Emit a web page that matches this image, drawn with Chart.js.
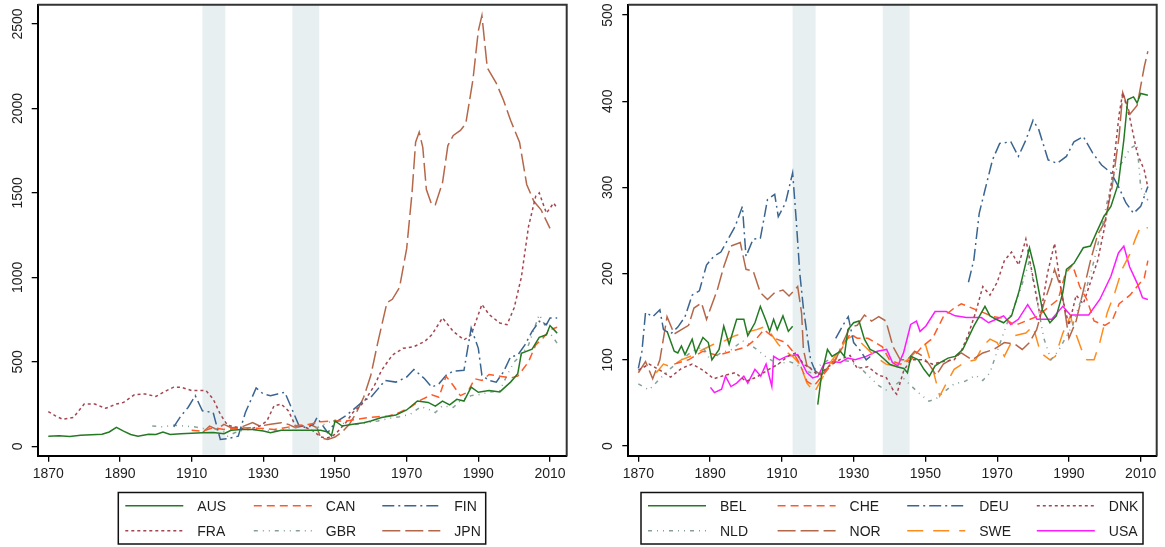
<!DOCTYPE html>
<html>
<head>
<meta charset="utf-8">
<script src="https://cdn.jsdelivr.net/npm/chart.js@4.4.1/dist/chart.umd.min.js"></script>
<style>
body { margin: 0; background: #fff; width: 1165px; height: 547px; overflow: hidden; position: relative; font-family: "Liberation Sans", Arial, sans-serif; }
.panel { position: absolute; top: 0; width: 580px; height: 490px; }
#left-panel { left: 0; }
#right-panel { left: 585px; }
#legend { position: absolute; left: 0; top: 0; pointer-events: none; }
</style>
</head>
<body>
<div class="panel" id="left-panel"><canvas id="left-chart" width="580" height="490"></canvas></div>
<div class="panel" id="right-panel"><canvas id="right-chart" width="580" height="490"></canvas></div>
<svg id="legend" width="1165" height="547"></svg>
<script>
// --- data (year, value) ---
const xTicks = [1870, 1890, 1910, 1930, 1950, 1970, 1990, 2010];
const leftYTicks = [0, 500, 1000, 1500, 2000, 2500];
const rightYTicks = [0, 100, 200, 300, 400, 500];
const warBands = [[1913, 1919.4], [1938.1, 1945.6]];

const AUS = [[1870,60],[1873,62],[1876,58],[1879,65],[1882,68],[1885,72],[1887,85],[1889,112],[1891,90],[1893,70],[1895,60],[1898,72],[1900,70],[1902,85],[1904,70],[1907,75],[1910,78],[1913,80],[1916,82],[1919,75],[1921,95],[1924,100],[1927,100],[1930,90],[1932,80],[1935,95],[1938,95],[1942,95],[1946,95],[1948,85],[1949,62],[1950,150],[1952,120],[1955,130],[1958,140],[1960,150],[1963,170],[1967,185],[1970,215],[1973,268],[1976,260],[1978,238],[1980,268],[1982,245],[1984,278],[1986,268],[1988,350],[1990,320],[1993,330],[1996,322],[1999,380],[2001,430],[2002,550],[2005,575],[2007,645],[2009,660],[2010,715],[2012,670]];
const CAN = [[1910,95],[1913,90],[1916,110],[1919,100],[1922,105],[1926,110],[1930,105],[1933,100],[1936,110],[1940,125],[1943,130],[1946,145],[1950,150],[1953,150],[1956,160],[1959,170],[1962,175],[1965,180],[1968,200],[1971,230],[1974,275],[1977,305],[1979,290],[1981,415],[1983,360],[1985,300],[1987,320],[1989,400],[1991,390],[1993,425],[1996,415],[1999,405],[2001,415],[2004,500],[2006,600],[2008,640],[2010,690],[2012,705]];
const FIN = [[1905,115],[1907,180],[1909,230],[1911,300],[1913,210],[1916,200],[1918,40],[1920,45],[1923,60],[1925,200],[1928,345],[1930,310],[1932,300],[1934,310],[1936,320],[1938,220],[1940,120],[1942,110],[1944,130],[1945,170],[1947,110],[1948,80],[1950,140],[1953,180],[1955,215],[1958,270],[1960,290],[1962,340],[1964,390],[1967,380],[1970,410],[1972,455],[1975,400],[1977,350],[1979,370],[1981,420],[1983,445],[1986,450],[1988,700],[1990,580],[1991,420],[1993,390],[1995,380],[1997,440],[1999,530],[2001,540],[2003,600],[2005,680],[2007,740],[2009,720],[2010,760],[2012,760]];
const FRA = [[1870,205],[1872,180],[1874,160],[1877,170],[1880,250],[1883,250],[1886,225],[1889,250],[1891,260],[1894,305],[1897,310],[1900,295],[1903,330],[1905,350],[1907,350],[1910,330],[1914,330],[1916,280],[1918,190],[1920,125],[1923,110],[1926,100],[1929,120],[1931,150],[1933,240],[1935,250],[1937,210],[1939,120],[1941,120],[1944,90],[1946,55],[1948,50],[1950,70],[1953,140],[1955,200],[1958,260],[1961,360],[1963,450],[1966,540],[1969,580],[1972,590],[1975,620],[1977,660],[1980,760],[1983,680],[1986,630],[1988,660],[1991,840],[1993,780],[1996,730],[1998,720],[2000,820],[2002,1000],[2004,1300],[2006,1480],[2007,1500],[2009,1380],[2011,1440],[2012,1410]];
const GBR = [[1899,120],[1902,115],[1905,125],[1908,120],[1911,115],[1913,105],[1915,110],[1917,100],[1919,85],[1920,60],[1922,80],[1925,100],[1928,100],[1930,95],[1933,90],[1936,100],[1939,115],[1942,120],[1945,110],[1948,140],[1950,155],[1953,130],[1956,130],[1959,140],[1962,150],[1965,165],[1968,175],[1971,190],[1974,235],[1976,220],[1978,200],[1980,240],[1983,230],[1985,270],[1988,300],[1990,305],[1993,320],[1996,330],[1998,420],[2000,500],[2002,540],[2004,600],[2006,720],[2007,780],[2009,700],[2011,640],[2012,610]];
const JPN = [[1913,80],[1915,120],[1917,100],[1919,130],[1921,110],[1924,115],[1927,140],[1929,120],[1932,130],[1935,140],[1937,130],[1939,110],[1941,120],[1943,130],[1945,110],[1946,50],[1948,40],[1950,55],[1952,85],[1954,130],[1956,200],[1958,290],[1960,420],[1962,620],[1964.5,850],[1966,870],[1968,940],[1970,1170],[1971.5,1500],[1972.5,1800],[1973.5,1860],[1974.5,1770],[1975.5,1520],[1977,1430],[1978,1430],[1980,1560],[1981.5,1780],[1983,1840],[1985,1870],[1986.5,1910],[1988.5,2170],[1990,2460],[1991,2550],[1992.5,2240],[1995,2150],[1997,2050],[1999,1930],[2001.5,1800],[2003.5,1550],[2005.5,1450],[2007.5,1400],[2010,1290]];

const BEL = [[1878,133],[1880,110],[1881,108],[1882,116],[1883,106],[1885,124],[1886,108],[1888,126],[1889.5,120],[1890.5,100],[1892.5,112],[1893.8,139],[1895.3,118],[1897.4,147],[1899.4,147],[1900.5,128],[1902.5,143],[1904,162],[1905.6,145],[1906.6,133],[1907.7,147],[1908.7,135],[1910.3,151],[1911.8,133],[1913,139],[1914,null],[1920,48],[1921,81],[1922.7,112],[1924,104],[1926.3,110],[1927.4,104],[1928.4,135],[1930,143],[1931.5,145],[1933,124],[1934.6,112],[1936.6,108],[1938.7,100],[1940,95],[1942,92],[1944,90],[1945,85],[1946,104],[1948,100],[1949.6,89],[1951.1,81],[1952.7,93],[1954.2,97],[1956.3,102],[1958.3,104],[1960.4,112],[1963.5,139],[1966.6,162],[1968,151],[1969.7,147],[1971.8,143],[1974,151],[1976,178],[1979,230],[1980.5,205],[1982.6,158],[1984.7,143],[1986.5,151],[1988.3,178],[1989.3,205],[1991.4,212],[1994,230],[1996,232],[1997.6,247],[1999.7,266],[2001.7,278],[2003.8,305],[2005.3,355],[2006.4,402],[2008,405],[2009,398],[2010,409],[2012,407]];
const CHE = [[1880,95],[1884,100],[1888,110],[1892,105],[1896,110],[1900,115],[1903,125],[1905,135],[1908,125],[1911,120],[1913,110],[1915,95],[1917,75],[1919,70],[1921,80],[1924,95],[1927,115],[1929,130],[1931,125],[1934,125],[1936,120],[1938,115],[1940,100],[1943,95],[1946,100],[1949,115],[1952,125],[1955,150],[1958,160],[1960,165],[1963,160],[1966,155],[1969,150],[1972,148],[1975,140],[1978,145],[1981,150],[1984,160],[1987,170],[1989,200],[1991,210],[1993,185],[1995,170],[1997,145],[2000,140],[2002,145],[2004,165],[2007,175],[2009,185],[2011,195],[2012,215]];
const DEU = [[1870,90],[1871,110],[1872,155],[1874,150],[1876,158],[1877,135],[1879,130],[1881,138],[1883,150],[1885,175],[1887,180],[1889,210],[1891,220],[1893,225],[1895,240],[1897,255],[1899,278],[1900,220],[1902,240],[1904,241],[1906,286],[1908,292],[1909,266],[1911,282],[1913,317],[1914,262],[1915,200],[1916,160],[1918,100],[1920,80],[1921,null],[1925,125],[1927,140],[1928.5,150],[1930,120],[1932,110],[1933.5,100],[1935,105],[1937,null],[1962,190],[1963.5,216],[1965,270],[1966.6,297],[1968.7,332],[1970.7,351],[1973.8,353],[1975.9,336],[1978,355],[1980,378],[1981.6,367],[1984.2,332],[1986.7,328],[1989.3,336],[1991.4,353],[1994,359],[1996.6,340],[1999.1,326],[2001.7,317],[2003.8,301],[2005.9,282],[2008,270],[2010,278],[2012,301]];
const DNK = [[1870,88],[1873,95],[1876,88],[1879,80],[1882,90],[1885,95],[1888,88],[1891,78],[1894,82],[1897,85],[1900,75],[1903,80],[1906,88],[1909,95],[1912,105],[1914,108],[1916,95],[1918,90],[1920,82],[1923,92],[1926,100],[1929,105],[1931,90],[1934,92],[1937,82],[1939,80],[1941,65],[1942,60],[1944,88],[1946,100],[1949,100],[1952,95],[1955,98],[1958,100],[1960,110],[1962,130],[1964,155],[1966,185],[1968,175],[1970,190],[1972,215],[1974,225],[1976,210],[1978,240],[1980,195],[1982,150],[1984,200],[1986,235],[1988,175],[1990,140],[1992,175],[1994,165],[1996,190],[1998,215],[2000,255],[2002,310],[2004,385],[2005,410],[2007,380],[2009,340],[2011,320],[2012,300]];
const NLD = [[1870,72],[1873,65],[1876,78],[1879,90],[1882,100],[1885,110],[1888,115],[1890,100],[1893,108],[1896,112],[1899,122],[1901,118],[1903,112],[1906,102],[1909,95],[1912,98],[1914,95],[1916,88],[1918,85],[1920,92],[1923,100],[1926,100],[1929,98],[1932,90],[1935,78],[1937,70],[1939,65],[1942,72],[1944,78],[1946,70],[1948,62],[1951,52],[1953,55],[1955,62],[1958,72],[1961,75],[1964,82],[1966,76],[1968,85],[1970,110],[1973,145],[1976,175],[1979,215],[1981,170],[1983,125],[1985,100],[1987,110],[1989,125],[1991,140],[1993,165],[1995,185],[1997,215],[1999,250],[2001,290],[2003,320],[2005,330],[2007,345],[2009,350],[2010,300],[2012,285]];
const NOR = [[1870,85],[1872,98],[1874,78],[1876,100],[1878,150],[1880,130],[1882,135],[1884,140],[1885.5,160],[1887.6,166],[1889,147],[1892,181],[1893.8,208],[1895.8,232],[1898.4,236],[1900,205],[1902,203],[1904,178],[1906,170],[1908,178],[1910.3,181],[1912,174],[1914.4,185],[1915.5,154],[1916,112],[1917,93],[1919,88],[1921,82],[1923,92],[1925,100],[1927,120],[1929,138],[1931,140],[1933,152],[1935,145],[1937,150],[1939,145],[1941,115],[1943,100],[1945,100],[1947,110],[1949,105],[1951,95],[1953,82],[1955,95],[1957,100],[1960,108],[1963,100],[1966,108],[1969,112],[1972,120],[1975,118],[1977,112],[1979,120],[1981,135],[1983,165],[1985,190],[1986,205],[1988,180],[1990,125],[1992,145],[1994,180],[1996,215],[1998,245],[2000,260],[2002,300],[2004,360],[2005,410],[2007,385],[2009,395],[2011,440],[2012,458]];
const SWE = [[1875,85],[1877,95],[1879,92],[1882,100],[1885,105],[1888,112],[1891,118],[1894,122],[1897,128],[1900,132],[1903,135],[1905,138],[1907,130],[1909,118],[1911,110],[1913,104],[1915,95],[1917,73],[1919,62],[1921,77],[1924,100],[1926,110],[1928,124],[1930,128],[1933,116],[1936,104],[1939,95],[1941,93],[1943,95],[1945,100],[1948,112],[1950,118],[1952,90],[1954,58],[1955.5,70],[1958,89],[1961,97],[1964,100],[1966,116],[1968,124],[1970,120],[1972,104],[1974.9,128],[1978,131],[1980,139],[1982.1,108],[1984.7,100],[1986.2,104],[1988.3,131],[1990.4,151],[1991.5,135],[1993.5,112],[1995,100],[1997,100],[1998.6,120],[2000.7,155],[2002.8,178],[2004.8,205],[2006.9,222],[2008.5,240],[2010,255],[2012,253]];
const USA = [[1890.1,68],[1891.2,62],[1893.2,66],[1894.3,81],[1895.8,69],[1897.4,73],[1899.4,81],[1900.5,73],[1902.5,89],[1904.1,81],[1905.6,95],[1907.2,69],[1907.7,104],[1909.3,100],[1911.3,104],[1914.4,106],[1917,85],[1918.6,79],[1920.1,81],[1921.7,95],[1924.2,98],[1926.3,97],[1928.4,102],[1930.4,100],[1933.5,104],[1936.6,110],[1939.2,112],[1940.8,97],[1942.3,93],[1943.9,108],[1945.9,141],[1947.5,145],[1948.5,133],[1950.1,139],[1952.7,156],[1955.8,156],[1958.3,151],[1961.4,149],[1965.6,149],[1967.6,143],[1969.7,147],[1971.8,151],[1973.8,141],[1975.9,147],[1978.5,164],[1981.1,147],[1985.2,147],[1988.3,162],[1990.4,152],[1995.5,152],[1998.6,170],[2001.7,197],[2003.8,224],[2005.3,232],[2006.9,208],[2009,189],[2010.5,172],[2012,170]];

// --- styles ---
const GREEN = '#237a23', REDORANGE = '#ff5a26', BLUE = '#3a6590', MAROON = '#a4454f',
      GREYGREEN = '#86a096', SIENNA = '#b5674a', ORANGE = '#ff8c1a', MAGENTA = '#ff1aff';
const SOLID = [], DASH = [8, 5], DASHDOT = [12, 4, 2, 4], SHORTDASH = [3, 3],
      DASHDOTDOT = [4, 5, 1, 5, 1, 5], LONGDASH = [18, 5], LONGGAP = [16, 10];

const leftSeries = [
    { label: 'AUS', data: AUS, color: GREEN, dash: SOLID },
    { label: 'CAN', data: CAN, color: REDORANGE, dash: DASH },
    { label: 'FIN', data: FIN, color: BLUE, dash: DASHDOT },
    { label: 'FRA', data: FRA, color: MAROON, dash: SHORTDASH },
    { label: 'GBR', data: GBR, color: GREYGREEN, dash: DASHDOTDOT },
    { label: 'JPN', data: JPN, color: SIENNA, dash: LONGDASH },
];
const rightSeries = [
    { label: 'BEL', data: BEL, color: GREEN, dash: SOLID },
    { label: 'CHE', data: CHE, color: REDORANGE, dash: DASH },
    { label: 'DEU', data: DEU, color: BLUE, dash: DASHDOT },
    { label: 'DNK', data: DNK, color: MAROON, dash: SHORTDASH },
    { label: 'NLD', data: NLD, color: GREYGREEN, dash: DASHDOTDOT },
    { label: 'NOR', data: NOR, color: SIENNA, dash: LONGDASH },
    { label: 'SWE', data: SWE, color: ORANGE, dash: LONGGAP },
    { label: 'USA', data: USA, color: MAGENTA, dash: SOLID },
];

const FONT = '"Liberation Sans", Arial, sans-serif';
const TEXT_COLOR = '#1e1e1e';

// war bands behind the lines, frame and rotated y labels on top
const framePlugin = {
    id: 'frame',
    beforeDatasetsDraw(chart) {
        const { ctx, chartArea: a, scales: { x } } = chart;
        ctx.save();
        ctx.fillStyle = '#e7eff1';
        warBands.forEach(([from, to]) => {
            const x0 = x.getPixelForValue(from);
            const x1 = x.getPixelForValue(to);
            ctx.fillRect(x0, a.top, x1 - x0, a.bottom - a.top - 1);
        });
        ctx.restore();
    },
    afterDraw(chart) {
        const { ctx, chartArea: a, scales: { y } } = chart;
        ctx.save();
        ctx.strokeStyle = '#333';
        ctx.lineWidth = 2;
        ctx.beginPath();
        ctx.moveTo(a.left, a.top);
        ctx.lineTo(a.right, a.top);
        ctx.lineTo(a.right, a.bottom);
        ctx.stroke();

        ctx.fillStyle = TEXT_COLOR;
        ctx.font = '14px ' + FONT;
        ctx.textAlign = 'center';
        ctx.textBaseline = 'middle';
        y.ticks.forEach(t => {
            ctx.save();
            ctx.translate(a.left - 20, y.getPixelForValue(t.value));
            ctx.rotate(-Math.PI / 2);
            ctx.fillText(String(t.value), 0, 0);
            ctx.restore();
        });
        ctx.restore();
    }
};

const makeChart = (canvasId, series, yTicks, box) => {
    const ctx = document.getElementById(canvasId).getContext('2d');
    return new Chart(ctx, {
        type: 'line',
        data: {
            datasets: series.map(s => ({
                label: s.label,
                data: s.data.map(([x, y]) => ({ x, y })),
                borderColor: s.color,
                borderDash: s.dash,
                borderWidth: 1.5,
                pointRadius: 0,
                tension: 0,
                fill: false,
                spanGaps: false,
            }))
        },
        options: {
            responsive: false,
            animation: false,
            devicePixelRatio: 1,
            layout: { padding: { left: 0, right: box.padRight, top: box.top, bottom: 0 } },
            plugins: { legend: { display: false }, tooltip: { enabled: false } },
            scales: {
                x: {
                    type: 'linear',
                    min: box.xMin,
                    max: box.xMax,
                    afterBuildTicks: s => { s.ticks = xTicks.map(v => ({ value: v })); },
                    afterFit: s => { s.height = box.xHeight; },
                    grid: { display: true, drawOnChartArea: false, drawTicks: true, tickLength: 6, color: '#000', lineWidth: 1.3 },
                    border: { display: true, color: '#000', width: 2 },
                    ticks: {
                        autoSkip: false, maxRotation: 0, padding: 4,
                        color: TEXT_COLOR, font: { family: FONT, size: 14 },
                        callback: v => String(v)
                    }
                },
                y: {
                    min: box.yMin,
                    max: box.yMax,
                    afterBuildTicks: s => { s.ticks = yTicks.map(v => ({ value: v })); },
                    afterFit: s => { s.width = box.yWidth; },
                    grid: { display: true, drawOnChartArea: false, drawTicks: true, tickLength: 6, color: '#000', lineWidth: 1.3 },
                    border: { display: true, color: '#000', width: 2 },
                    ticks: { display: false }
                }
            }
        },
        plugins: [framePlugin]
    });
};

makeChart('left-chart', leftSeries, leftYTicks,
    { xMin: 1867.04, xMax: 2014.66, yMin: -55.6, yMax: 2614, yWidth: 37.7, padRight: 13.3, top: 4.7, xHeight: 34.3 });
makeChart('right-chart', rightSeries, rightYTicks,
    { xMin: 1867.2, xMax: 2014.46, yMin: -11.25, yMax: 512, yWidth: 43.3, padRight: 8.3, top: 4.7, xHeight: 34.3 });

// --- legends (boxes under each panel) ---
const svg = document.getElementById('legend');
const NS = 'http://www.w3.org/2000/svg';
const add = (tag, attrs, text) => {
    const el = document.createElementNS(NS, tag);
    Object.entries(attrs).forEach(([k, v]) => el.setAttribute(k, v));
    if (text) el.textContent = text;
    svg.appendChild(el);
};

const drawLegend = (series, boxLeft, boxWidth, cols, colStep) => {
    add('rect', { x: boxLeft, y: 492.5, width: boxWidth, height: 51.5, fill: 'none', stroke: '#111', 'stroke-width': 1.5 });
    series.forEach((s, i) => {
        const col = i % cols, row = Math.floor(i / cols);
        const sx = boxLeft + 7 + col * colStep;
        const sy = row === 0 ? 505.7 : 530.7;
        add('line', { x1: sx, y1: sy, x2: sx + 58, y2: sy, stroke: s.color, 'stroke-width': 1.5,
            'stroke-dasharray': s.dash.length ? s.dash.join(' ') : 'none' });
        add('text', { x: sx + 72, y: sy, 'dominant-baseline': 'central', 'font-size': 14,
            'font-family': FONT, fill: TEXT_COLOR }, s.label);
    });
};

drawLegend(leftSeries, 118.3, 367.4, 3, 128.5);
drawLegend(rightSeries, 641, 502, 4, 129.6);
</script>
</body>
</html>
